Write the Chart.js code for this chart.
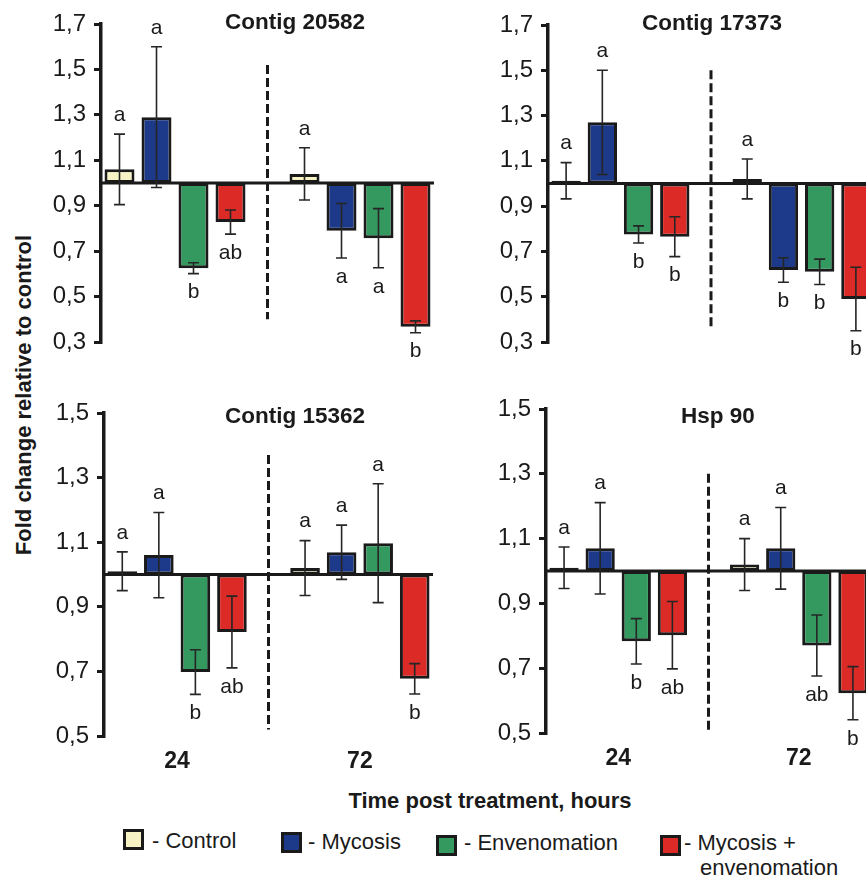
<!DOCTYPE html>
<html>
<head>
<meta charset="utf-8">
<script src="https://cdn.jsdelivr.net/npm/chart.js@4.4.1/dist/chart.umd.min.js"></script>
<style>
  html, body { margin:0; padding:0; background:#fff; overflow:hidden; width:866px; height:877px; }
  body { position:relative; font-family:"Liberation Sans", Arial, sans-serif; color:#1a1a1a; }
  canvas { position:absolute; }
  .c { position:absolute; white-space:nowrap; transform:translate(-50%,-50%); }
  .title { font-weight:bold; font-size:22.5px; }
  .lt { position:absolute; white-space:nowrap; font-size:22px; transform:translateY(-50%); }
  .box { position:absolute; width:21px; height:21px; box-sizing:border-box; border:3px solid #1a1a1a; }
</style>
</head>
<body>
<canvas id="p1" width="393" height="382" style="left:41px; top:0px;"></canvas>
<canvas id="p2" width="386" height="382" style="left:488px; top:0px;"></canvas>
<canvas id="p3" width="389" height="407" style="left:44px; top:380px;"></canvas>
<canvas id="p4" width="385" height="404" style="left:486px; top:380px;"></canvas>

<div class="c title" style="left:295px; top:22px;">Contig 20582</div>
<div class="c title" style="left:712px; top:23px;">Contig 17373</div>
<div class="c title" style="left:295px; top:416px;">Contig 15362</div>
<div class="c title" style="left:718px; top:416px;">Hsp 90</div>

<div class="c" style="left:24px; top:395px; font-weight:bold; font-size:22px; transform:translate(-50%,-50%) rotate(-90deg);">Fold change relative to control</div>
<div class="c" style="left:490px; top:801px; font-weight:bold; font-size:22px;">Time post treatment, hours</div>

<div id="legend"></div>

<script>
// ---------------- data ----------------
const timeGroups = ['24', '72'];
const treatments = ['Control', 'Mycosis', 'Envenomation', 'Mycosis + envenomation'];
const panelTitles = ['Contig 20582', 'Contig 17373', 'Contig 15362', 'Hsp 90'];

// order: 24 h (Control, Mycosis, Envenomation, Mycosis+env), 72 h (same order)
const c20582Mean = [1.06, 1.29, 0.625, 0.828, 1.04, 0.79, 0.757, 0.367];
const c20582Err  = [0.155, 0.31, 0.024, 0.053, 0.115, 0.12, 0.13, 0.026];
const c20582Sig  = ['a', 'a', 'b', 'ab', 'a', 'a', 'a', 'b'];

const c17373Mean = [1.012, 1.27, 0.775, 0.765, 1.02, 0.618, 0.61, 0.49];
const c17373Err  = [0.08, 0.23, 0.038, 0.088, 0.088, 0.054, 0.056, 0.14];
const c17373Sig  = ['a', 'a', 'b', 'b', 'a', 'b', 'b', 'b'];

const c15362Mean = [1.01, 1.06, 0.698, 0.822, 1.02, 1.069, 1.097, 0.677];
const c15362Err  = [0.06, 0.132, 0.069, 0.111, 0.085, 0.084, 0.184, 0.047];
const c15362Sig  = ['a', 'a', 'b', 'ab', 'a', 'a', 'a', 'b'];

const hsp90Mean  = [1.01, 1.07, 0.783, 0.802, 1.02, 1.07, 0.77, 0.623];
const hsp90Err   = [0.064, 0.141, 0.07, 0.104, 0.08, 0.126, 0.094, 0.082];
const hsp90Sig   = ['a', 'a', 'b', 'ab', 'a', 'a', 'ab', 'b'];

const yTicksUpper = [0.3, 0.5, 0.7, 0.9, 1.1, 1.3, 1.5, 1.7];
const yTicksLower = [0.5, 0.7, 0.9, 1.1, 1.3, 1.5];
const baselineValue = 1.0;

// ---------------- styles ----------------
const FONT = '"Liberation Sans", Arial, sans-serif';
const INK = '#1a1a1a';
const colors = ['#f7f3c4', '#1d3a8a', '#33995f', '#dc2a27'];

// slot index: 4 bars, a gap slot (dashed separator), 4 bars
const slots = 9;
const slotOf = (g, t) => g * 5 + t;

const refPlugin = {
  id: 'refPlugin',
  afterDatasetsDraw(chart, args, opts) {
    const ctx = chart.ctx;
    const xs = chart.scales.x, ys = chart.scales.y, ca = chart.chartArea;
    ctx.save();
    // dashed separator
    const dx = xs.getPixelForValue(4);
    ctx.strokeStyle = INK; ctx.lineWidth = 3; ctx.setLineDash([9, 4]);
    ctx.beginPath(); ctx.moveTo(dx, ys.getPixelForValue(opts.dashTop)); ctx.lineTo(dx, ys.getPixelForValue(opts.dashBottom)); ctx.stroke();
    ctx.setLineDash([]);
    // baseline at 1.0
    const by = ys.getPixelForValue(baselineValue);
    ctx.lineWidth = 3;
    ctx.beginPath(); ctx.moveTo(ca.left, by); ctx.lineTo(ca.right + 2, by); ctx.stroke();
    // error bars and letters
    chart.data.datasets.forEach((ds, di) => {
      const meta = chart.getDatasetMeta(di);
      meta.data.forEach((el, i) => {
        const v = ds.data[i];
        if (!v) return;
        const mean = v[1], err = ds.errors[i];
        const x = el.x;
        const yt = ys.getPixelForValue(mean + err), yb = ys.getPixelForValue(mean - err);
        ctx.strokeStyle = '#262626'; ctx.lineWidth = 1.6;
        ctx.beginPath();
        ctx.moveTo(x, yt); ctx.lineTo(x, yb);
        ctx.moveTo(x - 5.5, yt); ctx.lineTo(x + 5.5, yt);
        ctx.moveTo(x - 5.5, yb); ctx.lineTo(x + 5.5, yb);
        ctx.stroke();
        ctx.fillStyle = INK; ctx.font = '21px ' + FONT;
        ctx.textAlign = 'center'; ctx.textBaseline = 'middle';
        const ly = mean >= baselineValue ? yt - 19 : yb + 19;
        ctx.fillText(ds.letters[i], x, ly);
      });
    });
    ctx.restore();
  }
};

function makePanel(id, mean, err, sig, yTicks, padTop, padBottom, showGroups, dashTop, dashBottom) {
  const datasets = treatments.map((name, t) => {
    const data = new Array(slots).fill(null);
    const errors = new Array(slots).fill(null);
    const letters = new Array(slots).fill(null);
    timeGroups.forEach((g, gi) => {
      const s = slotOf(gi, t);
      data[s] = [baselineValue, mean[gi * 4 + t]];
      errors[s] = err[gi * 4 + t];
      letters[s] = sig[gi * 4 + t];
    });
    return {
      label: name, data, errors, letters,
      backgroundColor: colors[t], borderColor: INK, borderWidth: 3, borderSkipped: false,
      barPercentage: 0.81, categoryPercentage: 1.0, skipNull: true
    };
  });
  return new Chart(document.getElementById(id), {
    type: 'bar',
    data: { labels: new Array(slots).fill(''), datasets },
    options: {
      responsive: false, animation: false, devicePixelRatio: 1,
      layout: { padding: { left: 0, right: 0, top: padTop, bottom: padBottom } },
      plugins: { legend: { display: false }, tooltip: { enabled: false }, refPlugin: { dashTop, dashBottom } },
      scales: {
        x: {
          display: showGroups,
          grid: { display: false, drawTicks: false },
          border: { display: false },
          afterBuildTicks: s => { s.ticks = timeGroups.map((g, gi) => ({ value: gi * 5 + 1.5 })); },
          afterFit: s => { s.height = showGroups ? 50 : 0; },
          ticks: { callback: (v, i) => timeGroups[i], autoSkip: false, maxRotation: 0, padding: 12,
                   color: INK, font: { family: FONT, size: 23, weight: 'bold' } }
        },
        y: {
          min: yTicks[0], max: yTicks[yTicks.length - 1],
          afterFit: s => { s.width = 60; },
          afterBuildTicks: s => { s.ticks = yTicks.map(v => ({ value: v })); },
          ticks: { callback: v => v.toFixed(1).replace('.', ','), color: INK, padding: 8,
                   font: { family: FONT, size: 24 } },
          grid: { drawOnChartArea: false, drawTicks: true, tickLength: 7, lineWidth: 3, color: INK },
          border: { display: true, width: 3.5, color: INK }
        }
      }
    },
    plugins: [refPlugin]
  });
}

makePanel('p1', c20582Mean, c20582Err, c20582Sig, yTicksUpper, 24, 40, false, 1.52, 0.40);
makePanel('p2', c17373Mean, c17373Err, c17373Sig, yTicksUpper, 25, 40, false, 1.50, 0.37);
makePanel('p3', c15362Mean, c15362Err, c15362Sig, yTicksLower, 33, 1, true, 1.37, 0.52);
makePanel('p4', hsp90Mean, hsp90Err, hsp90Sig, yTicksLower, 29, 1, true, 1.30, 0.51);

// legend (HTML)
const legendPos = [
  { box: [123, 829], text: [152, 841] },
  { box: [281, 832], text: [308, 842] },
  { box: [436, 835], text: [464, 843] },
  { box: [660, 835], text: [684, 843] }
];
const legendText = ['- Control', '- Mycosis', '- Envenomation', '- Mycosis +<br><span style="padding-left:16px">envenomation</span>'];
const lg = document.getElementById('legend');
treatments.forEach((t, i) => {
  const b = document.createElement('div');
  b.className = 'box';
  b.style.left = legendPos[i].box[0] + 'px'; b.style.top = legendPos[i].box[1] + 'px';
  b.style.background = colors[i];
  lg.appendChild(b);
  const tx = document.createElement('div');
  tx.className = 'lt';
  tx.style.left = legendPos[i].text[0] + 'px';
  if (i === 3) { tx.style.top = (legendPos[i].text[1] - 13) + 'px'; tx.style.transform = 'none'; tx.style.lineHeight = '25px'; }
  else tx.style.top = legendPos[i].text[1] + 'px';
  tx.innerHTML = legendText[i];
  lg.appendChild(tx);
});
</script>
</body>
</html>
